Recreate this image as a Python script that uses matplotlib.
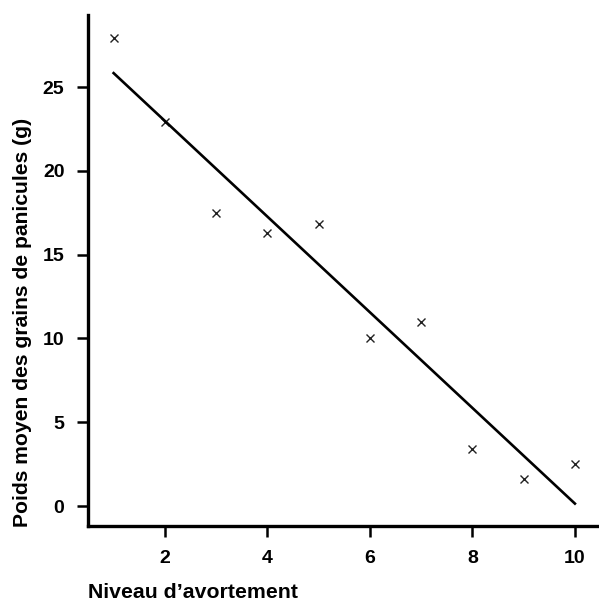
import numpy as np
import matplotlib
matplotlib.use('Agg')
import matplotlib.pyplot as plt

plt.rcParams['font.family'] = ['Liberation Sans', 'DejaVu Sans']

# niveau d'avortement et poids moyen (g)
niveau = np.array([1, 2, 3, 4, 5, 6, 7, 8, 9, 10])
poids = np.array([27.9, 22.9, 17.5, 16.3, 16.8, 10.0, 11.0, 3.4, 1.6, 2.5])

xticks = [2, 4, 6, 8, 10]
yticks = [0, 5, 10, 15, 20, 25]

# droite de regression
pente, origine = np.polyfit(niveau, poids, 1)
x_fit = np.array([niveau.min(), niveau.max()])
y_fit = pente * x_fit + origine

fig = plt.figure(figsize=(5.99, 6.01), dpi=100)
ax = fig.add_axes([88/599, 75/601, 1 - 88/599, (586 - 75)/601])

ax.plot(niveau, poids, linestyle='none', marker='x', color='#222222',
        markersize=6, markeredgewidth=1.0)
ax.plot(x_fit, y_fit, color='black', linewidth=1.9)

ax.set_xlim(0.5, 10.47)
ax.set_ylim(-1.19, 29.3)
ax.set_xticks(xticks)
ax.set_yticks(yticks)

for s in ['top', 'right']:
    ax.spines[s].set_visible(False)
for s in ['left', 'bottom']:
    ax.spines[s].set_linewidth(2.4)

ax.tick_params(length=8, width=1.8, pad=9, labelsize=14)
for lab in ax.get_xticklabels() + ax.get_yticklabels():
    lab.set_fontweight('bold')

fig.text(88/599, 1 - 592/601, 'Niveau d\u2019avortement', ha='left', va='center',
         fontsize=15.3, fontweight='bold')
fig.text(23/599, 1 - 322/601, 'Poids moyen des grains de panicules (g)',
         rotation=90, ha='center', va='center', fontsize=15.2, fontweight='bold')

plt.savefig('out.png', dpi=100)
